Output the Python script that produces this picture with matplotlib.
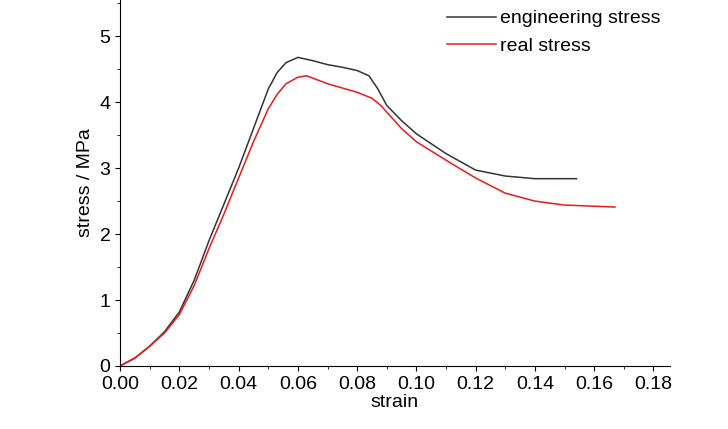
import matplotlib
matplotlib.use("Agg")
import matplotlib.pyplot as plt
from matplotlib.ticker import MultipleLocator

eng_strain = [0, 0.005, 0.01, 0.015, 0.02, 0.025, 0.03, 0.035, 0.04, 0.045, 0.05, 0.053, 0.056, 0.06, 0.065,
              0.07, 0.075, 0.08, 0.084, 0.087, 0.09, 0.095, 0.10, 0.11, 0.12, 0.13, 0.14, 0.154]
eng_stress = [0, 0.12, 0.3, 0.52, 0.82, 1.3, 1.9, 2.45, 3.0, 3.6, 4.2, 4.45, 4.6, 4.68, 4.63,
              4.57, 4.53, 4.48, 4.4, 4.2, 3.95, 3.72, 3.52, 3.22, 2.97, 2.88, 2.84, 2.84]
real_strain = [0, 0.005, 0.01, 0.015, 0.02, 0.025, 0.03, 0.035, 0.04, 0.045, 0.05, 0.053, 0.056, 0.06, 0.063,
               0.07, 0.08, 0.085, 0.088, 0.095, 0.10, 0.11, 0.12, 0.13, 0.14, 0.15, 0.167]
real_stress = [0, 0.12, 0.3, 0.5, 0.78, 1.22, 1.78, 2.3, 2.85, 3.4, 3.9, 4.12, 4.28, 4.38, 4.4,
               4.28, 4.15, 4.06, 3.95, 3.6, 3.4, 3.12, 2.85, 2.62, 2.5, 2.44, 2.41]

plt.rcParams["font.family"] = ["Liberation Sans", "DejaVu Sans"]
fig = plt.figure(figsize=(7.28, 4.29), dpi=100)
ax = fig.add_axes([0.165, 0.147, 0.755, 0.853])
ax.plot(eng_strain, eng_stress, color="#333333", lw=1.1, label="engineering stress")
ax.plot(real_strain, real_stress, color="#e8191a", lw=1.1, label="real stress")
ax.set_xlim(0, 0.1855)
ax.set_ylim(0, 5.55)
ax.xaxis.set_major_locator(MultipleLocator(0.02))
ax.xaxis.set_minor_locator(MultipleLocator(0.01))
ax.yaxis.set_major_locator(MultipleLocator(1))
ax.yaxis.set_minor_locator(MultipleLocator(0.5))
ax.xaxis.set_major_formatter(matplotlib.ticker.FormatStrFormatter("%.2f"))
ax.tick_params(labelsize=14)
ax.spines["top"].set_visible(False)
ax.spines["right"].set_visible(False)
ax.set_xlabel("strain", fontsize=14, labelpad=1)
ax.set_ylabel("stress / MPa", fontsize=14)
ax.legend(loc="upper right", frameon=False, fontsize=14, handlelength=2.5,
          handletextpad=0.2, borderaxespad=0.1, bbox_to_anchor=(1.0, 1.0))
fig.savefig("out.png", dpi=100)
